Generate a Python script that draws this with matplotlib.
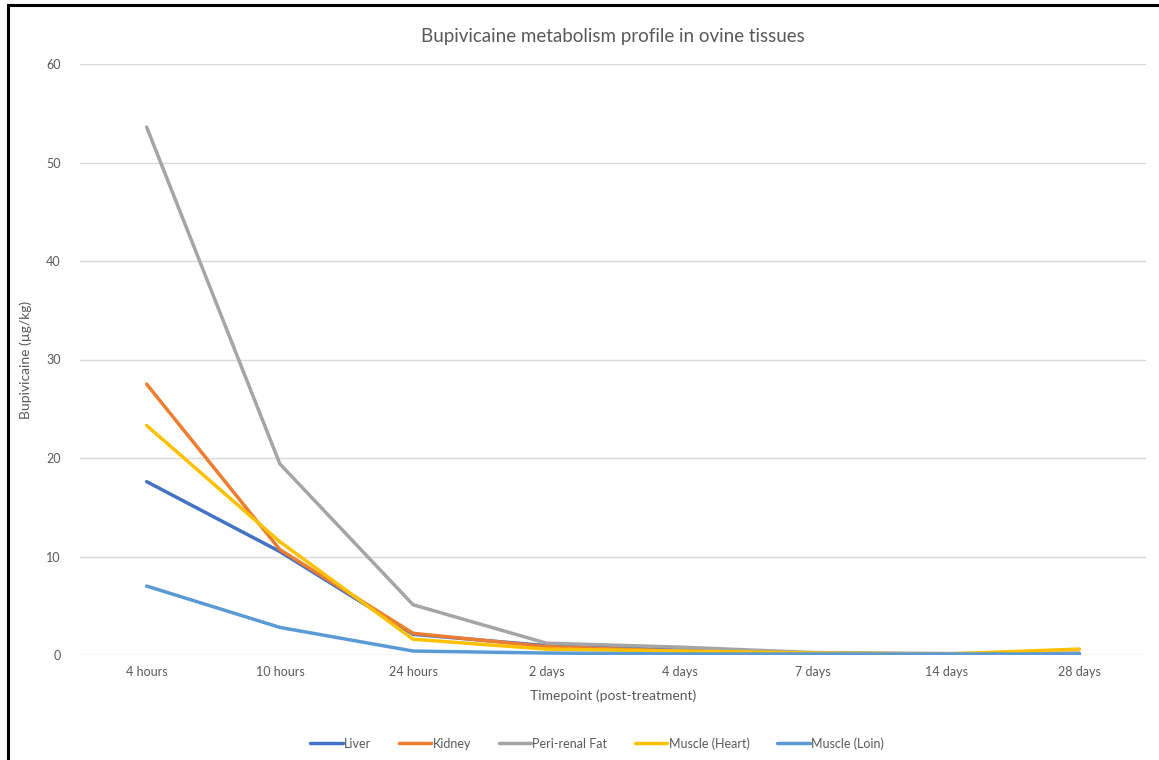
import matplotlib.pyplot as plt
from matplotlib.lines import Line2D

plt.rcParams['font.family'] = ['Lato', 'DejaVu Sans']

timepoints = ["4 hours", "10 hours", "24 hours", "2 days", "4 days", "7 days", "14 days", "28 days"]

liver = [17.6, 10.5, 2.1, 0.95, 0.5, 0.15, 0.1, 0.1]
kidney = [27.5, 10.7, 2.2, 0.85, 0.4, 0.2, 0.1, 0.15]
fat = [53.6, 19.4, 5.1, 1.2, 0.8, 0.25, 0.15, 0.2]
heart = [23.3, 11.5, 1.6, 0.6, 0.4, 0.2, 0.1, 0.6]
loin = [7.0, 2.8, 0.4, 0.2, 0.1, 0.1, 0.1, 0.1]

series = [
    ("Liver", liver, "#4472C4"),
    ("Kidney", kidney, "#ED7D31"),
    ("Peri-renal Fat", fat, "#A5A5A5"),
    ("Muscle (Heart)", heart, "#FFC000"),
    ("Muscle (Loin)", loin, "#5B9BD5"),
]

txt = "#595959"
fig = plt.figure(figsize=(11.59, 7.6), dpi=100)
ax = fig.add_axes([80 / 1159, 105 / 760, (1146 - 80) / 1159, (696 - 105) / 760])

x = list(range(len(timepoints)))
for name, vals, col in series:
    ax.plot(x, vals, color=col, lw=2.5, label=name, solid_capstyle='round', zorder=3)

ax.set_xlim(-0.5, len(timepoints) - 0.5)
ax.set_ylim(0, 60)
ax.set_yticks(range(0, 61, 10))
ax.set_xticks(x)
ax.set_xticklabels(timepoints)
ax.grid(axis='y', color="#D9D9D9", lw=1)
ax.set_axisbelow(True)
for s in ax.spines.values():
    s.set_visible(False)
ax.tick_params(length=0, colors=txt, labelsize=9)
ax.tick_params(axis='y', pad=14)
ax.tick_params(axis='x', pad=8)

ax.set_title("Bupivicaine metabolism profile in ovine tissues", color=txt, fontsize=13.5, pad=16)
ax.set_xlabel("Timepoint (post-treatment)", color=txt, fontsize=10, labelpad=8)
ax.set_ylabel("Bupivicaine (µg/kg)", color=txt, fontsize=10, labelpad=10)

ax.legend(loc='upper center', bbox_to_anchor=(0.485, -0.12), ncol=5, frameon=False,
          fontsize=9, labelcolor=txt, handlelength=2.6, handletextpad=0.1, columnspacing=2.2)

# frame edge along the top and left
fig.add_artist(Line2D([8 / 1159, 8 / 1159], [0, 755 / 760], color="black", lw=2.2))
fig.add_artist(Line2D([8 / 1159, 1], [755 / 760, 755 / 760], color="black", lw=2.2))

fig.savefig("out.png", dpi=100)
